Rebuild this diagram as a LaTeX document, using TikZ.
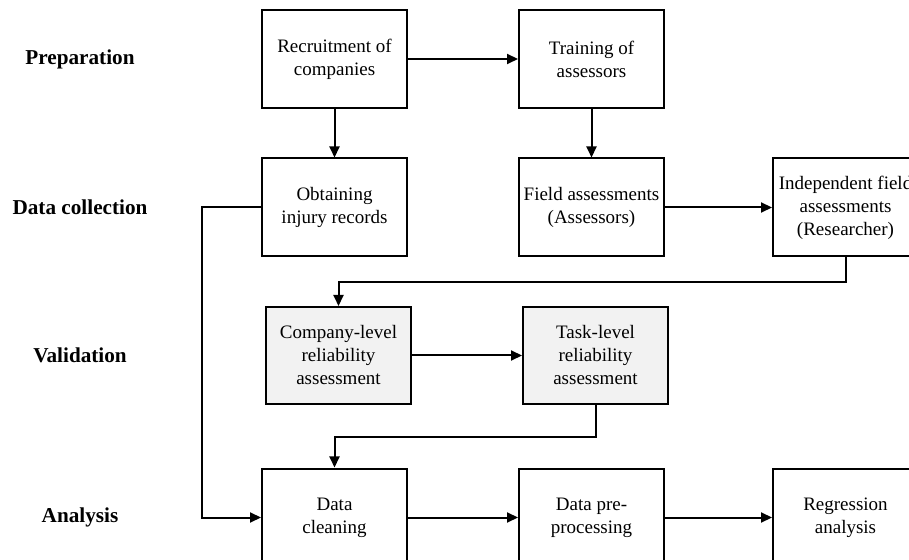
\documentclass[tikz,border=0pt]{standalone}
\usepackage{fontspec}
\setmainfont{Liberation Serif}
\usepackage{xcolor}
\definecolor{gray100}{HTML}{F2F2F2}
\usepackage{tikz}
\usetikzlibrary{arrows.meta, positioning}

\begin{document}
\begin{tikzpicture}[
        node distance=24.25pt and 55pt,
        stage/.style={draw, rectangle, line width=1pt, minimum width=72.5pt, minimum height=49pt, inner xsep=1pt, align=center, font=\fontsize{9.5}{11.5}\selectfont},
        check/.style={stage, fill=gray100, minimum height=48.5pt},
        phase/.style={font=\fontsize{10.6}{12}\selectfont\bfseries, anchor=center},
        flow/.style={-{Triangle[length=5.5pt, width=5pt]}, line width=1pt}
    ]
        \useasboundingbox (0,0) rectangle (454.5pt,-280pt);
        \clip (0,0) rectangle (454.5pt,-280pt);

        % Preparation
        \node[stage] (recruit) at (167.25pt,-29.5pt) {Recruitment of\\companies};
        \node[stage, right=of recruit] (train) {Training of\\assessors};

        % Data collection
        \node[stage, below=of recruit] (injury) {Obtaining\\injury records};
        \node[stage, below=of train] (field) {Field assessments\\(Assessors)};
        \node[stage, right=53.5pt of field] (indep) {Independent field\\assessments\\(Researcher)};

        % Validation
        \node[check, below=of injury, xshift=2pt] (company) {Company-level\\reliability\\assessment};
        \node[check, right=of company] (task) {Task-level\\reliability\\assessment};

        % Analysis
        \node[stage, below=31.25pt of company, xshift=-2pt] (clean) {Data\\cleaning};
        \node[stage, right=of clean] (prep) {Data pre-\\processing};
        \node[stage, right=53.5pt of prep] (regress) {Regression\\analysis};

        % Phase labels
        \coordinate (lblx) at (40pt,0);
        \node[phase] (lprep) at (lblx |- recruit) {Preparation};
        \node[phase] (lcoll) at (lblx |- injury) {Data collection};
        \node[phase] (lval) at (lblx |- company) {Validation};
        \node[phase] (lana) at (lblx |- clean) {Analysis};

        % Connectors
        \draw[flow] (recruit.east) -- (train.west);
        \draw[flow] (recruit.south) -- (injury.north);
        \draw[flow] (train.south) -- (field.north);
        \draw[flow] (field.east) -- (indep.west);
        \draw[flow] (indep.south) -- ++(0,-12.5pt) -| (company.north);
        \draw[flow] (company.east) -- (task.west);
        \draw[flow] (task.south) -- ++(0,-15.9pt) -| (clean.north);
        \draw[flow] (injury.west) -- ++(-29.4pt,0) |- (clean.west);
        \draw[flow] (clean.east) -- (prep.west);
        \draw[flow] (prep.east) -- (regress.west);

    \end{tikzpicture}
\end{document}
